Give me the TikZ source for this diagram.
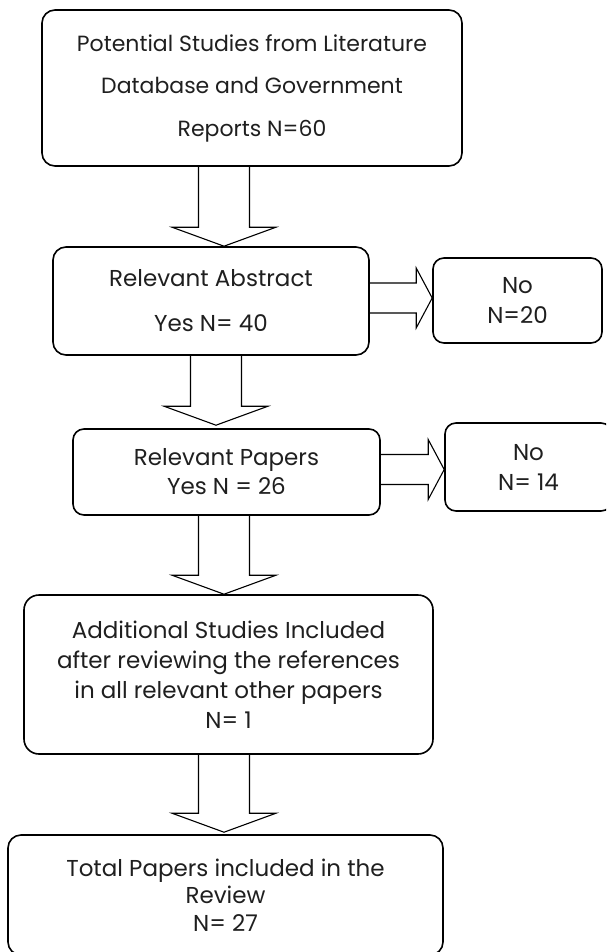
\documentclass[tikz,border=0pt]{standalone}
\usepackage{fontspec}
\setmainfont{Poppins}
\usetikzlibrary{calc}

% vertical block arrow: from node #2 (south) to node #3 (north), axis at x = #4,
% tip lifted #1 above the target box
\newcommand\vblock[4][0]{%
  \draw[blockarrow]
    ($(#4,0 |- #2.south)+(-25.5,0)$) --
    ($(#4,0 |- #3.north)+(-25.5,-19-#1)$) --
    ($(#4,0 |- #3.north)+(-52,-19-#1)$) --
    ($(#4,0 |- #3.north)+(0,-#1)$) --
    ($(#4,0 |- #3.north)+(52,-19-#1)$) --
    ($(#4,0 |- #3.north)+(25.5,-19-#1)$) --
    ($(#4,0 |- #2.south)+(25.5,0)$);}

% horizontal block arrow: from node #1 (east) to node #2 (west), axis at y = #3
\newcommand\hblock[3]{%
  \draw[blockarrow]
    ($(#1.east |- 0,#3)+(0,-15)$) --
    ($(#2.west |- 0,#3)+(-16,-15)$) --
    ($(#2.west |- 0,#3)+(-16,-30)$) --
    ($(#2.west |- 0,#3)$) --
    ($(#2.west |- 0,#3)+(-16,30)$) --
    ($(#2.west |- 0,#3)+(-16,15)$) --
    ($(#1.east |- 0,#3)+(0,15)$);}

\begin{document}
\begin{tikzpicture}[x=1pt,y=-1pt,
  box/.style={draw=black, line width=1.6pt, rounded corners=13pt, inner sep=0pt,
              align=center, text=black!88},
  blockarrow/.style={draw=black, line width=1.1pt, line join=miter},
  txt/.style={font=\fontsize{23}{#1}\selectfont}]
\useasboundingbox (0,0) rectangle (606,952);
\clip (0,0) rectangle (606,952);

\node[box, minimum width=420pt, minimum height=156pt, font=\fontsize{22}{42.5}\selectfont] (src) at (252,88)
  {Potential Studies from Literature\\Database and Government\\Reports N=60};
\node[box, minimum width=316pt, minimum height=108pt, txt=45] (abs) at (211,301)
  {Relevant Abstract\\Yes N= 40};
\node[box, rounded corners=11pt, minimum width=169pt, minimum height=85pt, txt=30] (no1) at (517.5,300.5)
  {No\\N=20};
\node[box, rounded corners=11pt, minimum width=307pt, minimum height=86pt, txt=29] (pap) at (226.5,472)
  {\rule{0pt}{3pt}Relevant Papers\\Yes N = 26};
\node[box, rounded corners=11pt, minimum width=167pt, minimum height=88pt, txt=30] (no2) at (528.5,467)
  {No\\N= 14};
\node[box, rounded corners=15pt, minimum width=409pt, minimum height=159pt, txt=30] (rev) at (228.5,674.5)
  {Additional Studies Included\\after reviewing the references\\in all relevant other papers\\N= 1};
\node[box, minimum width=435pt, minimum height=120pt, txt=27.5] (tot) at (225.5,895)
  {Total Papers included in the\\Review\\N= 27};

\vblock{src}{abs}{224}
\vblock[3]{abs}{pap}{216}
\vblock{pap}{rev}{224}
\vblock[2]{rev}{tot}{224}

\hblock{abs}{no1}{298}
\hblock{pap}{no2}{469.5}
\end{tikzpicture}
\end{document}
